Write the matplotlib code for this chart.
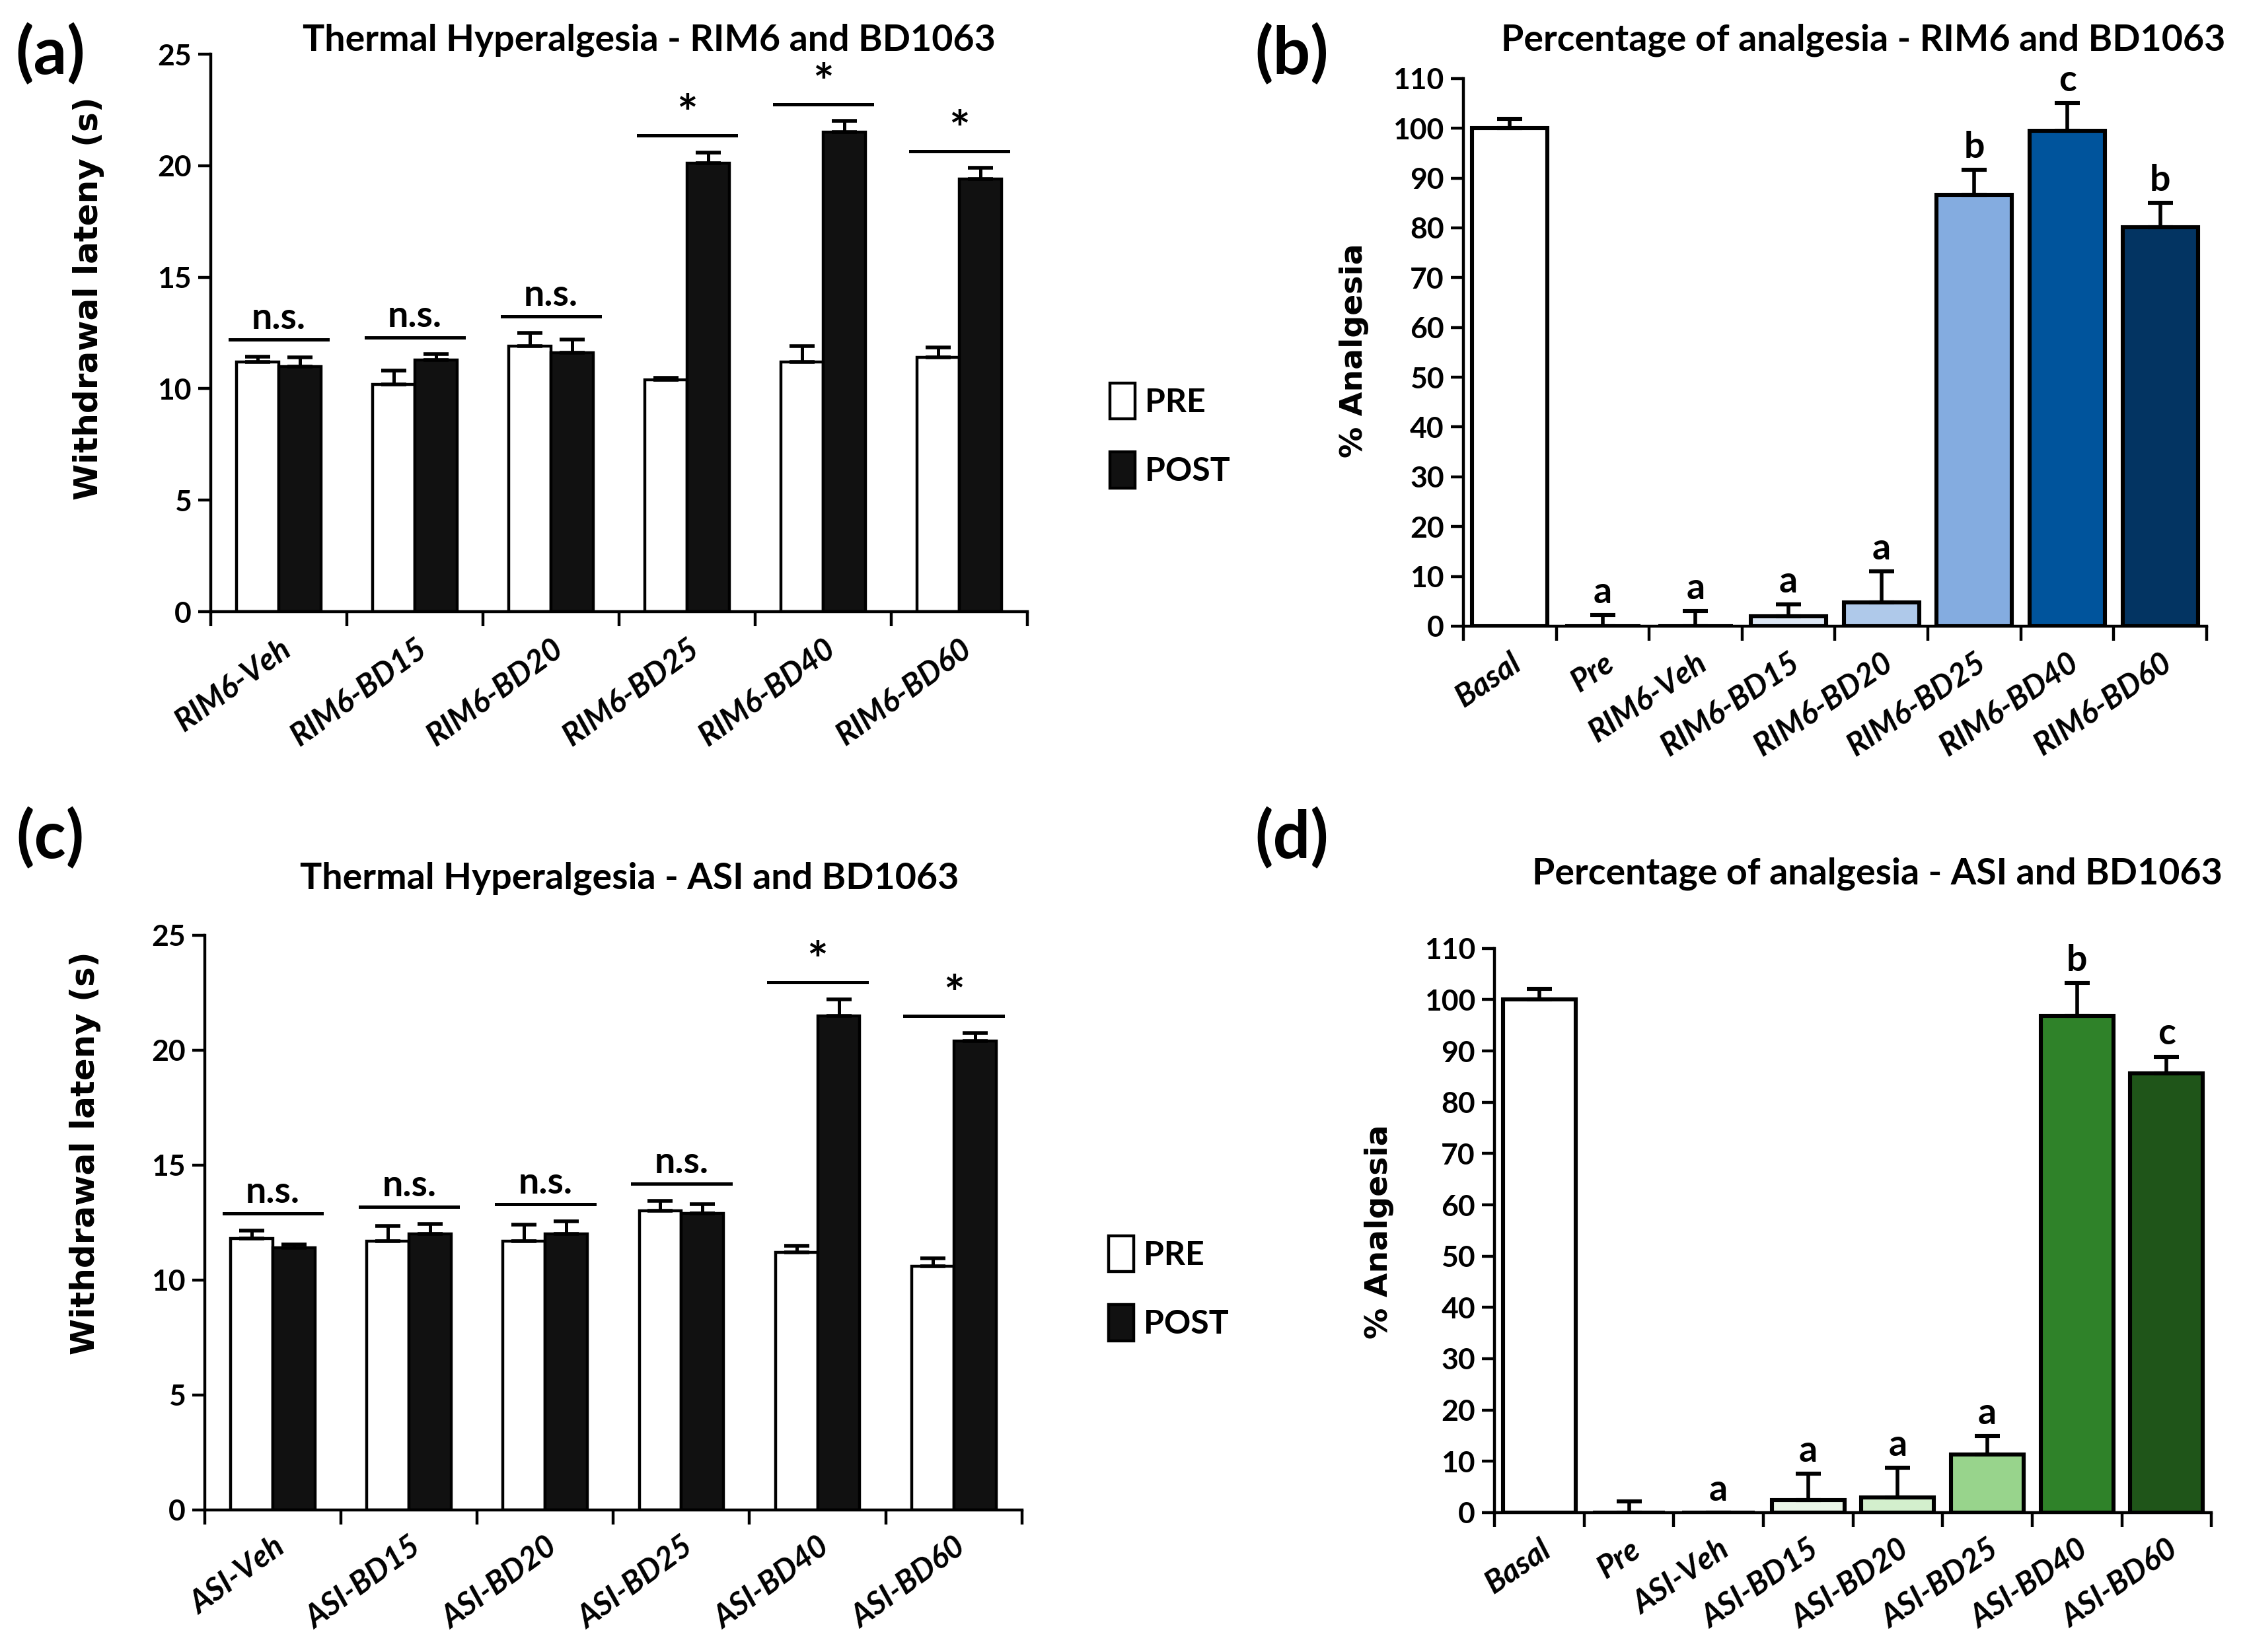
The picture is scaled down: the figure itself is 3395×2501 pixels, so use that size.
import numpy as np
import matplotlib
matplotlib.use("Agg")
import matplotlib.pyplot as plt
from matplotlib.patches import Patch


# (a) thermal hyperalgesia, RIM6 + BD1063
groups_a = ["RIM6-Veh", "RIM6-BD15", "RIM6-BD20", "RIM6-BD25", "RIM6-BD40", "RIM6-BD60"]
pre_a = [11.2, 10.2, 11.9, 10.4, 11.2, 11.4]
pre_err_a = [0.25, 0.6, 0.6, 0.1, 0.7, 0.45]
post_a = [11.0, 11.3, 11.6, 20.1, 21.5, 19.4]
post_err_a = [0.4, 0.25, 0.6, 0.5, 0.5, 0.5]
marks_a = ["n.s.", "n.s.", "n.s.", "*", "*", "*"]

# (c) thermal hyperalgesia, ASI + BD1063
groups_c = ["ASI-Veh", "ASI-BD15", "ASI-BD20", "ASI-BD25", "ASI-BD40", "ASI-BD60"]
pre_c = [11.8, 11.7, 11.7, 13.0, 11.2, 10.6]
pre_err_c = [0.35, 0.65, 0.7, 0.45, 0.3, 0.35]
post_c = [11.4, 12.0, 12.0, 12.9, 21.5, 20.4]
post_err_c = [0.15, 0.45, 0.55, 0.4, 0.7, 0.35]
marks_c = ["n.s.", "n.s.", "n.s.", "n.s.", "*", "*"]

# (b) percentage of analgesia, RIM6
groups_b = ["Basal", "Pre", "RIM6-Veh", "RIM6-BD15", "RIM6-BD20", "RIM6-BD25", "RIM6-BD40", "RIM6-BD60"]
values_b = [100.0, 0.0, 0.0, 2.0, 4.8, 86.6, 99.5, 80.1]
errors_b = [1.9, 2.2, 3.0, 2.4, 6.2, 5.1, 5.6, 4.9]
letters_b = ["", "a", "a", "a", "a", "b", "c", "b"]
colors_b = ["white", "white", "white", "#dce6f4", "#afc9ea", "#84ace0", "#00549c", "#033462"]

# (d) percentage of analgesia, ASI
groups_d = ["Basal", "Pre", "ASI-Veh", "ASI-BD15", "ASI-BD20", "ASI-BD25", "ASI-BD40", "ASI-BD60"]
values_d = [100.0, 0.0, 0.0, 2.5, 2.9, 11.3, 96.8, 85.7]
errors_d = [2.1, 2.2, 0.0, 5.1, 5.8, 3.6, 6.5, 3.2]
letters_d = ["", "", "a", "a", "a", "a", "b", "c"]
colors_d = ["white", "white", "white", "#eaf6e8", "#d3efcd", "#98d48c", "#2f8229", "#1f5519"]


TEXT_FONT = ["Lato", "DejaVu Sans"]
LABEL_FONT = ["DejaVu Sans"]

plt.rcParams["font.family"] = TEXT_FONT
plt.rcParams["font.weight"] = "bold"


def style_axes(ax, n_groups, ymax, ystep, tick_size):
    for side in ["top", "right"]:
        ax.spines[side].set_visible(False)
    for side in ["left", "bottom"]:
        ax.spines[side].set_linewidth(1.6)

    ax.set_xlim(-0.5, n_groups - 0.5)
    ax.set_ylim(0, ymax)
    ax.set_yticks(np.arange(0, ymax + 0.1, ystep))

    ax.set_xticks(np.arange(-0.5, n_groups, 1.0), minor=True)
    ax.tick_params(axis="x", which="major", length=0)
    ax.tick_params(axis="x", which="minor", length=8, width=1.6, direction="out")
    ax.tick_params(axis="y", length=7, width=1.6, direction="out", labelsize=tick_size)

    for label in ax.get_yticklabels():
        label.set_fontweight("bold")


def draw_latency_panel(ax, groups, pre, pre_err, post, post_err, marks, title, ylabel_pos, legend_pos):
    x = np.arange(len(groups))
    width = 0.31

    ax.bar(x - width / 2, pre, width, color="white", edgecolor="black", linewidth=1.6, zorder=2)
    ax.bar(x + width / 2, post, width, color="#111111", edgecolor="black", linewidth=1.6, zorder=2)

    ax.errorbar(x - width / 2, pre, yerr=[np.zeros(len(pre)), pre_err], fmt="none",
                ecolor="black", elinewidth=1.8, capsize=7, capthick=2, zorder=3)
    ax.errorbar(x + width / 2, post, yerr=[np.zeros(len(post)), post_err], fmt="none",
                ecolor="black", elinewidth=1.8, capsize=7, capthick=2, zorder=3)

    style_axes(ax, len(groups), 25, 5, 16)

    ax.set_xticks(x)
    ax.set_xticklabels(groups, rotation=36, ha="right", rotation_mode="anchor",
                       fontsize=17, fontstyle="italic", fontweight="bold")
    ax.tick_params(axis="x", which="major", pad=12)

    # significance bars
    for i, mark in enumerate(marks):
        top = max(pre[i] + pre_err[i], post[i] + post_err[i])
        level = top + 0.75
        ax.plot([i - 0.36, i + 0.36], [level, level], color="black", linewidth=1.8, zorder=3)
        if mark == "*":
            ax.text(i, level - 0.15, mark, ha="center", va="bottom", fontsize=27, fontweight="bold")
        else:
            ax.text(i, level + 0.2, mark, ha="center", va="bottom", fontsize=20, fontweight="bold")

    ax.text(title[1], title[2], title[0], transform=ax.transAxes, ha="center", va="center",
            fontsize=20, fontweight="bold")

    ax.text(ylabel_pos[0], ylabel_pos[1], "Withdrawal lateny (s)", transform=ax.transAxes,
            rotation=90, ha="center", va="center", fontsize=18, fontweight="bold",
            family=LABEL_FONT)

    handles = [
        Patch(facecolor="white", edgecolor="black", linewidth=1.6, label="PRE"),
        Patch(facecolor="#111111", edgecolor="black", linewidth=1.6, label="POST"),
    ]
    ax.legend(handles=handles, loc="center left", bbox_to_anchor=legend_pos, frameon=False,
              handlelength=0.75, handleheight=1.3, handletextpad=0.3, labelspacing=1.0,
              prop={"size": 18, "weight": "bold"})


def draw_analgesia_panel(ax, groups, values, errors, colors, letters, title, ylabel_pos):
    x = np.arange(len(groups))

    ax.bar(x, values, 0.81, color=colors, edgecolor="black", linewidth=2.2, zorder=2)
    ax.errorbar(x, values, yerr=[np.zeros(len(values)), errors], fmt="none",
                ecolor="black", elinewidth=2.0, capsize=7, capthick=2.2, zorder=3)

    style_axes(ax, len(groups), 110, 10, 16)

    ax.set_xticks(x)
    ax.set_xticklabels(groups, rotation=34, ha="right", rotation_mode="anchor",
                       fontsize=17, fontstyle="italic", fontweight="bold")
    ax.tick_params(axis="x", which="major", pad=12)

    for i, letter in enumerate(letters):
        if letter:
            ax.text(i, values[i] + errors[i] + 1.2, letter, ha="center", va="bottom",
                    fontsize=20, fontweight="bold")

    ax.text(title[1], title[2], title[0], transform=ax.transAxes, ha="center", va="center",
            fontsize=20, fontweight="bold")

    ax.text(ylabel_pos[0], ylabel_pos[1], "% Analgesia", transform=ax.transAxes,
            rotation=90, ha="center", va="center", fontsize=17, fontweight="bold",
            family=LABEL_FONT)


fig = plt.figure(figsize=(16.975, 12.505), dpi=200)

ax_a = fig.add_axes([0.094, 0.6297, 0.364, 0.3375])
ax_b = fig.add_axes([0.6524, 0.6210, 0.3314, 0.3315])
ax_c = fig.add_axes([0.0913, 0.0860, 0.3643, 0.3479])
ax_d = fig.add_axes([0.6663, 0.0844, 0.3196, 0.3415])

draw_latency_panel(ax_a, groups_a, pre_a, pre_err_a, post_a, post_err_a, marks_a,
                   ("Thermal Hyperalgesia - RIM6 and BD1063", 0.537, 1.025),
                   (-0.15, 0.562), (1.065, 0.316))
draw_latency_panel(ax_c, groups_c, pre_c, pre_err_c, post_c, post_err_c, marks_c,
                   ("Thermal Hyperalgesia - ASI and BD1063", 0.52, 1.099),
                   (-0.146, 0.621), (1.07, 0.386))
draw_analgesia_panel(ax_b, groups_b, values_b, errors_b, colors_b, letters_b,
                     ("Percentage of analgesia - RIM6 and BD1063", 0.538, 1.07),
                     (-0.147, 0.503))
draw_analgesia_panel(ax_d, groups_d, values_d, errors_d, colors_d, letters_d,
                     ("Percentage of analgesia - ASI and BD1063", 0.534, 1.132),
                     (-0.161, 0.498))

for label, (px, py) in zip(["(a)", "(b)", "(c)", "(d)"],
                           [(0.0224, 0.967), (0.576, 0.967), (0.0224, 0.4926), (0.576, 0.4926)]):
    fig.text(px, py, label, ha="center", va="center", fontsize=36, fontweight="bold")

fig.savefig("out.png", dpi=200)
plt.close(fig)
